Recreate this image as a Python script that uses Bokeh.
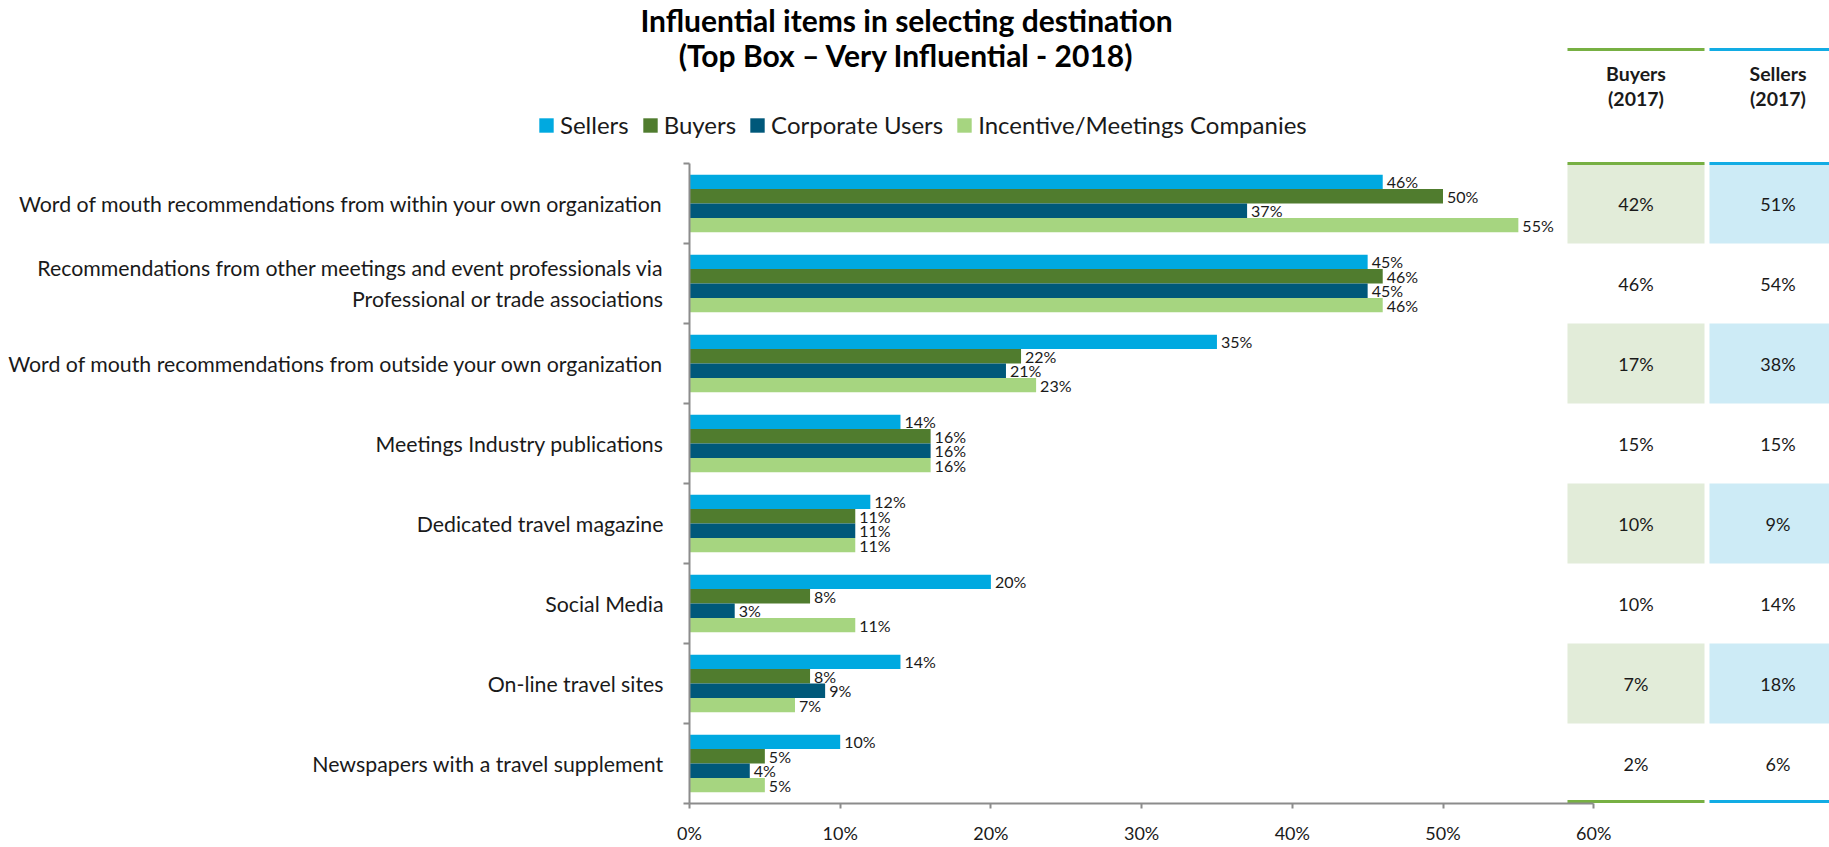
from bokeh.plotting import figure
from bokeh.layouts import column
from bokeh.models import (Range1d, FixedTicker, Label, Legend, LegendItem, ColumnDataSource)
from bokeh.embed import file_html
from bokeh.resources import INLINE
from bokeh.core.properties import value

# ---------------- data ----------------
categories = [
    "Word of mouth recommendations from within your own organization",
    "Recommendations from other meetings and event professionals via\nProfessional or trade associations",
    "Word of mouth recommendations from outside your own organization",
    "Meetings Industry publications",
    "Dedicated travel magazine",
    "Social Media",
    "On-line travel sites",
    "Newspapers with a travel supplement",
]
series_names = ["Sellers", "Buyers", "Corporate Users", "Incentive/Meetings Companies"]
sellers = [46, 45, 35, 14, 12, 20, 14, 10]
buyers = [50, 46, 22, 16, 11, 8, 8, 5]
corporate_users = [37, 45, 21, 16, 11, 3, 9, 4]
incentive_meetings = [55, 46, 23, 16, 11, 11, 7, 5]
buyers_2017 = [42, 46, 17, 15, 10, 10, 7, 2]
sellers_2017 = [51, 54, 38, 15, 9, 14, 18, 6]
table_headers = ["Buyers\n(2017)", "Sellers\n(2017)"]
x_ticks = [0, 10, 20, 30, 40, 50, 60]
title_lines = ["Influential items in selecting destination",
               "(Top Box \u2013 Very Influential - 2018)"]

# ---------------- style / layout ----------------
FONT = "Lato"
series_colors = ["#00A9E0", "#507C2E", "#00587A", "#A6D580"]
series_offsets = [0.27, 0.09, -0.09, -0.27]
bar_h = 0.18
col_fill = ["#E2ECD9", "#CDEBF6"]
col_line = ["#77B043", "#12ACE4"]
axis_color = "#8C8C8C"
text_color = "#1A1A1A"

W = 1829
HEAD_H = 155
MAIN_H = 692
FRAME_L = 689          # pixel of 0 %
PX_PER_PCT = 15.07
COL_PITCH = 142        # px per table column
COL0_CENTER = 1635.5   # px centre of first table column
ROW_PX = 80
TOP_PAD = 3            # px above first category band

n = len(categories)
centers = [n - i - 0.5 for i in range(n)]

# ================= header figure (title, legend, table header) =================
h = figure(width=W, height=HEAD_H, x_range=Range1d(0, W), y_range=Range1d(0, HEAD_H),
           x_axis_type=None, y_axis_type=None, output_backend="svg",
           toolbar_location=None, min_border=0, outline_line_color=None)
h.frame_align = False
h.grid.visible = False
h.extra_x_ranges = {"table": Range1d(-COL0_CENTER / COL_PITCH, (W - COL0_CENTER) / COL_PITCH)}

for t, ty_ in zip(title_lines, [HEAD_H - 19.5, HEAD_H - 54]):
    h.add_layout(Label(x=906, y=ty_, text=t, text_align="center",
                       text_baseline="middle", text_font=FONT,
                       text_font_size="30px", text_font_style="bold",
                       text_color="#000000"))

# legend proxies (zero-length bars placed outside the visible range)
legend_items = []
for name, color in zip(series_names, series_colors):
    r = h.hbar(y=[-100], left=[0], right=[0], height=1, fill_color=color, line_color=None)
    legend_items.append(LegendItem(label=name, renderers=[r]))
legend = Legend(items=legend_items, orientation="horizontal",
                location=(537, 16), padding=0, margin=0, spacing=12,
                label_standoff=5, glyph_width=18, glyph_height=18,
                label_text_font=FONT, label_text_font_size="24px",
                label_text_color=text_color, label_text_baseline="middle",
                border_line_color=None, background_fill_alpha=0)
h.add_layout(legend, "center")

h.rect(x=[0, 1], y=[HEAD_H - 49] * 2, width=0.965, height=3, height_units="screen",
       fill_color=col_line, line_color=None, x_range_name="table")
h.text(x=[0, 1], y=[HEAD_H - 85.5] * 2, text=table_headers, x_range_name="table",
       text_align="center", text_baseline="middle", text_font=value(FONT),
       text_font_size="19.5px", text_font_style="bold", text_line_height=1.1,
       text_color=text_color)

# ================= main figure =================
frame_w = W - FRAME_L
p = figure(width=W, height=MAIN_H,
           x_range=Range1d(0, frame_w / PX_PER_PCT),
           y_range=Range1d(0, n + TOP_PAD / ROW_PX),
           output_backend="svg", toolbar_location=None,
           min_border_left=FRAME_L, min_border_right=0, min_border_top=163 - HEAD_H - TOP_PAD,
           min_border_bottom=44, outline_line_color=None)
p.frame_align = False
p.extra_x_ranges = {"table": Range1d(-(COL0_CENTER - FRAME_L) / COL_PITCH,
                                     (W - COL0_CENTER) / COL_PITCH)}
p.grid.visible = False

xa = p.xaxis[0]
xa.bounds = (0, 60)
xa.ticker = FixedTicker(ticks=x_ticks, minor_ticks=[])
xa.major_label_overrides = {t: f"{t}%" for t in x_ticks}
xa.axis_line_color = axis_color
xa.axis_line_width = 2
xa.major_tick_line_color = axis_color
xa.major_tick_line_width = 2
xa.major_tick_out = 5
xa.major_tick_in = 0
xa.minor_tick_line_color = None
xa.major_label_standoff = 13
xa.major_label_text_font = FONT
xa.major_label_text_font_size = "18px"
xa.major_label_text_color = text_color

ya = p.yaxis[0]
ya.bounds = (0, n)
ya.ticker = FixedTicker(ticks=centers, minor_ticks=list(range(n + 1)))
ya.major_label_overrides = {c: cat for c, cat in zip(centers, categories)}
ya.axis_line_color = axis_color
ya.axis_line_width = 2
ya.major_tick_line_color = None
ya.major_tick_out = 0
ya.major_tick_in = 0
ya.minor_tick_line_color = axis_color
ya.minor_tick_line_width = 2
ya.minor_tick_out = 6
ya.minor_tick_in = 0
ya.major_label_standoff = 20
ya.major_label_text_font = FONT
ya.major_label_text_font_size = "21.3px"
ya.major_label_text_color = text_color

for name, vals, color, off in zip(series_names,
                                  [sellers, buyers, corporate_users, incentive_meetings],
                                  series_colors, series_offsets):
    src = ColumnDataSource(dict(y=[c + off for c in centers], x=vals,
                                lab=[f"{v}%" for v in vals]))
    p.hbar(y="y", left=0, right="x", height=bar_h, source=src,
           fill_color=color, line_color=None)
    p.text(x="x", y="y", text="lab", source=src, x_offset=4,
           text_baseline="middle", text_align="left",
           text_font=value(FONT), text_font_size="16px", text_color=text_color)

# comparison table
cell_x, cell_y, cell_c = [], [], []
for j, fill in enumerate(col_fill):
    for i, c in enumerate(centers):
        if i % 2 == 0:
            cell_x.append(j); cell_y.append(c); cell_c.append(fill)
p.rect(x=cell_x, y=cell_y, width=0.965, height=1, fill_color=cell_c,
       line_color=None, x_range_name="table")

tx, ty, tt = [], [], []
for j, vals in enumerate([buyers_2017, sellers_2017]):
    for c, v in zip(centers, vals):
        tx.append(j); ty.append(c); tt.append(f"{v}%")
p.text(x=tx, y=ty, text=tt, x_range_name="table", text_align="center",
       text_baseline="middle", text_font=value(FONT), text_font_size="18px",
       text_color=text_color)

for ly in [n, 2.0 / ROW_PX]:
    p.rect(x=[0, 1], y=[ly, ly], width=0.965, height=3, height_units="screen",
           fill_color=col_line, line_color=None, x_range_name="table")

layout = column(h, p, spacing=0)
open("out.html", "w").write(file_html(layout, INLINE))
